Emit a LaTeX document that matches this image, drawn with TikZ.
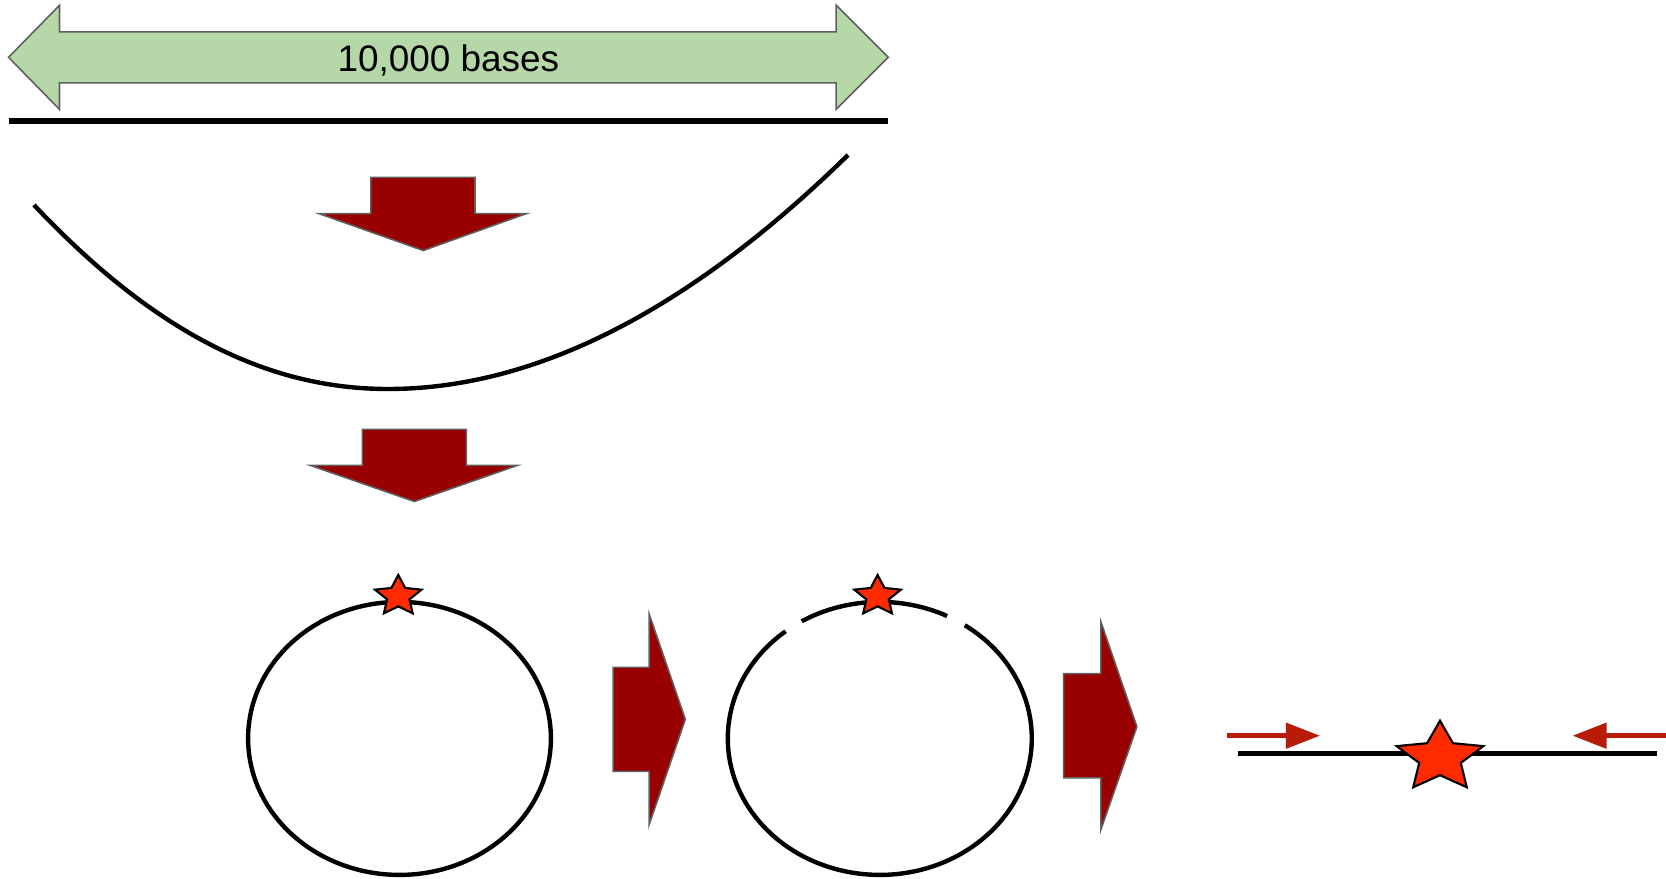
\documentclass[tikz,border=0pt]{standalone}
\usepackage{fontspec}
\setmainfont{Liberation Sans}
\usetikzlibrary{arrows.meta}
\definecolor{arrowred}{HTML}{990000}
\definecolor{pointred}{HTML}{B81C08}
\definecolor{starred}{HTML}{FF2A00}
\definecolor{basegreen}{HTML}{B6D7A8}
\definecolor{edgegray}{HTML}{5F5F5F}

\begin{document}
\begin{tikzpicture}[x=0.01cm,y=-0.01cm,
    bigarrow/.style={fill=arrowred,draw=edgegray,line width=0.45pt},
    dna/.style={line width=1.25pt},
    redstar/.style={fill=starred,draw=black,line width=0.6pt},
    pointer/.style={draw=pointred,line width=1.3pt,-{Triangle[length=0.34cm,width=0.25cm]}}]
                \useasboundingbox (0,0) rectangle (1666,879);

                % length of the strand
                \draw[fill=basegreen,draw=edgegray,line width=0.45pt] (8.5,57.3) -- (59.5,5.3) -- (59.5,31.9) -- (836.2,31.9) -- (836.2,5.3) -- (888.3,57.3) -- (836.2,109.4) -- (836.2,82.9) -- (59.5,82.9) -- (59.5,109.4) -- cycle;
                \node[inner sep=0,anchor=base,font=\fontsize{10.5}{12}\selectfont] (bases) at (448.4,71.2) {10,000 bases};
                \draw[line width=1.9pt] (8.5,121.1) -- (888.3,121.1);

                % bending
                \draw[bigarrow] (370.8,177.4) -- (475,177.4) -- (475,213.6) -- (526.5,213.6) -- (423.2,250.5) -- (318.9,213.6) -- (370.8,213.6) -- cycle;
                \draw[dna] (34,205) .. controls (152,330) and (265,389) .. (388,389) .. controls (545,389) and (700,300) .. (848,155);
                \draw[bigarrow] (362.3,429.3) -- (466.4,429.3) -- (466.4,465.4) -- (517.4,465.4) -- (414.4,501.5) -- (310.3,465.4) -- (362.3,465.4) -- cycle;

                % closed ring
                \draw[dna] (399.5,738.4) ellipse [x radius=151.4, y radius=136.5];
                \draw[bigarrow] (613.1,667.3) -- (649.2,667.3) -- (649.2,614.1) -- (685.3,719.3) -- (649.2,824.5) -- (649.2,771.4) -- (613.1,771.4) -- cycle;

                % cut ring
                \draw[dna] (879.8,738.4) ++(-63.7:152 and 136.5) arc[start angle=-63.7, end angle=-120.9, x radius=152, y radius=136.5];
                \draw[dna] (879.8,738.4) ++(-128.3:152 and 136.5) arc[start angle=-128.3, end angle=-416, x radius=152, y radius=136.5];
                \draw[bigarrow] (1063.6,673.6) -- (1100.8,673.6) -- (1100.8,621.6) -- (1136.9,726.7) -- (1100.8,829.8) -- (1100.8,777.8) -- (1063.6,777.8) -- cycle;

                % opened strand
                \draw[dna] (1237.8,753.3) -- (1656.6,753.3);
                \draw[pointer] (1226.7,735.7) -- (1320,735.7);
                \draw[pointer] (1666,735.7) -- (1572.5,735.7);

                \foreach \cx/\cy/\rx/\ry in {398.3/596.2/24.5/21.2, 877.6/596.2/24.5/21.2, 1440/757.5/45.6/36.8}
                    \draw[redstar] plot[samples at={0,...,9}] ({\cx+\rx*(1-0.52*mod(\x,2))*cos(90+36*\x)}, {\cy-\ry*(1-0.52*mod(\x,2))*sin(90+36*\x)}) -- cycle;
            \end{tikzpicture}
\end{document}
